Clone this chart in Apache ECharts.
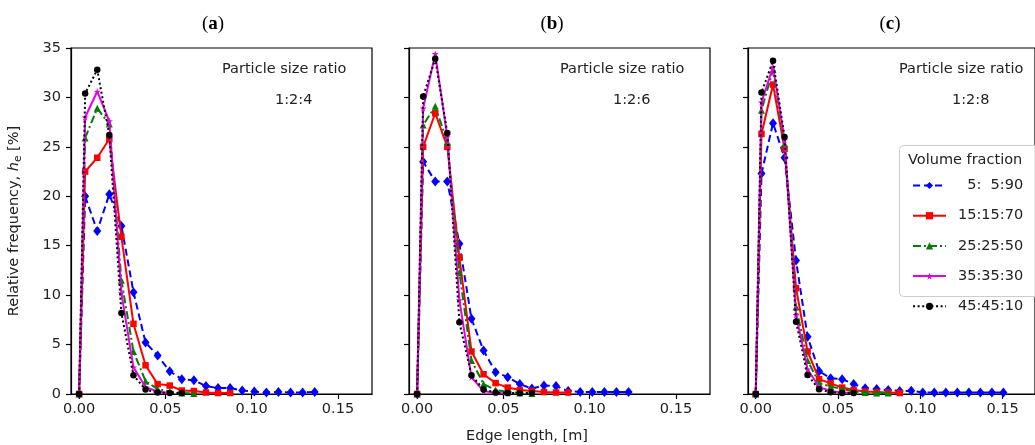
<!DOCTYPE html>
<html>
<head>
<meta charset="utf-8">
<script src="https://cdn.jsdelivr.net/npm/echarts@6/dist/echarts.min.js"></script>
<style>html,body{margin:0;padding:0;background:#fff;}#c{width:1035px;height:445px;}</style>
</head>
<body>
<div id="c"></div>
<script>
// Edge length positions (m): x = 0 then bin centres
const edgeLength = [0, 0.0035, 0.0105, 0.0175, 0.0245, 0.0315, 0.0385, 0.0455, 0.0525, 0.0595, 0.0665,
  0.0735, 0.0805, 0.0875, 0.0945, 0.1015, 0.1085, 0.1155, 0.1225, 0.1295, 0.1365, 0.1435, 0.1505];

const seriesNames = ['  5:  5:90', '15:15:70', '25:25:50', '35:35:30', '45:45:10'];
const panelTitles = ['a', 'b', 'c'];
const sizeRatios = ['1:2:4', '1:2:6', '1:2:8'];
const xTicks = [0, 0.05, 0.10, 0.15];

// Panel (a) 1:2:4
const blueA = [0, 20.0, 16.5, 20.2, 17.0, 10.3, 5.2, 3.9, 2.3, 1.5, 1.4, 0.8, 0.6, 0.6, 0.35, 0.25, 0.15, 0.2, 0.15, 0.15, 0.2];
const redA = [0, 22.5, 23.9, 25.8, 15.9, 7.1, 2.9, 1.0, 0.85, 0.35, 0.3, 0.15, 0.1, 0.1];
const greenA = [0, 25.9, 28.9, 27.3, 11.5, 4.3, 1.3, 0.5, 0.25, 0.1, 0.05];
const magentaA = [0, 28.0, 30.6, 27.6, 10.2, 2.7, 0.7, 0.25, 0.1];
const blackA = [0, 30.4, 32.8, 26.2, 8.2, 1.9, 0.45, 0.15, 0.1, 0.1];

// Panel (b) 1:2:6
const blueB = [0, 23.5, 21.5, 21.5, 15.2, 7.6, 4.4, 2.2, 1.7, 1.0, 0.55, 0.85, 0.8, 0.3, 0.2, 0.2, 0.2, 0.2, 0.2];
const redB = [0, 25.0, 28.4, 25.0, 13.8, 4.3, 2.0, 1.1, 0.65, 0.4, 0.3, 0.2, 0.15, 0.15];
const greenB = [0, 27.2, 29.1, 25.5, 12.3, 3.4, 1.0, 0.4, 0.2, 0.1, 0.05];
const magentaB = [0, 28.9, 34.4, 26.0, 9.5, 1.7, 0.3, 0.1, 0.05];
const blackB = [0, 30.1, 33.9, 26.4, 7.25, 1.9, 0.45, 0.15, 0.1, 0.1, 0.1];

// Panel (c) 1:2:8
const blueC = [0, 22.3, 27.4, 23.9, 13.5, 5.8, 2.3, 1.6, 1.5, 1.0, 0.57, 0.5, 0.4, 0.3, 0.33, 0.16, 0.15, 0.15, 0.15, 0.15, 0.15, 0.15, 0.15];
const redC = [0, 26.3, 31.3, 24.8, 10.7, 4.3, 1.5, 1.08, 0.65, 0.4, 0.25, 0.2, 0.15, 0.1];
const greenC = [0, 28.7, 32.8, 25.3, 8.8, 3.4, 1.1, 0.75, 0.5, 0.25, 0.15, 0.1, 0.1];
const magentaC = [0, 29.5, 33.1, 25.7, 8.0, 2.5, 0.7, 0.3, 0.15, 0.1];
const blackC = [0, 30.5, 33.7, 26.0, 7.3, 1.92, 0.47, 0.17, 0.1, 0.1];

const panels = [
  [blueA, redA, greenA, magentaA, blackA],
  [blueB, redB, greenB, magentaB, blackB],
  [blueC, redC, greenC, magentaC, blackC]
];

const FONT = 'DejaVu Sans';
const FS = 14.5;
const starPath = 'path://M50,0 L61,35 L98,35 L68,57 L79,91 L50,70 L21,91 L32,57 L2,35 L39,35 Z';
const styles = [
  {color: '#0000ff', type: [7, 4], symbol: 'diamond', size: [8, 10]},
  {color: '#ff0000', type: 'solid', symbol: 'rect', size: 6.5},
  {color: '#008000', type: [8, 3, 2, 3], symbol: 'triangle', size: 7},
  {color: '#e600e6', type: 'solid', symbol: starPath, size: 7},
  {color: '#000000', type: [2, 2.6], symbol: 'circle', size: 6.5}
];

const lefts = [71, 409, 748];
const grids = lefts.map(l => ({left: l, width: 301, top: 48, height: 346, show: true,
  borderColor: '#000', borderWidth: 1.2, backgroundColor: 'transparent'}));

const xAxes = lefts.map((l, i) => ({
  type: 'value', gridIndex: i, min: -0.0047, max: 0.1697,
  splitLine: {show: false},
  axisLine: {show: true, onZero: false, lineStyle: {color: '#000', width: 1.2}},
  axisTick: {show: true, length: 5, customValues: xTicks, lineStyle: {color: '#000', width: 1.2}},
  axisLabel: {show: true, customValues: xTicks, margin: 8, fontFamily: FONT, fontSize: FS, color: '#222',
    formatter: v => v.toFixed(2)}
}));

const yAxes = lefts.map((l, i) => ({
  type: 'value', gridIndex: i, min: 0, max: 35, interval: 5,
  splitLine: {show: false},
  axisLine: {show: true, onZero: false, lineStyle: {color: '#000', width: 1.2}},
  axisTick: {show: true, length: 5, lineStyle: {color: '#000', width: 1.2}},
  axisLabel: {show: i === 0, margin: 10, fontFamily: FONT, fontSize: FS, color: '#222'},
  name: i === 0 ? 'Relative frequency, {i|h}{s|e} [%]' : '',
  nameLocation: 'middle', nameGap: 47, nameRotate: 90,
  nameTextStyle: {fontFamily: FONT, fontSize: FS, color: '#222',
    rich: {i: {fontFamily: FONT, fontSize: FS, fontStyle: 'italic', color: '#222'},
           s: {fontFamily: FONT, fontSize: 10.5, color: '#222', padding: [9, 0, 0, 0]}}}
}));

const series = [];
panels.forEach((arrs, p) => {
  arrs.forEach((vals, s) => {
    const st = styles[s];
    series.push({
      name: seriesNames[s], type: 'line', xAxisIndex: p, yAxisIndex: p,
      data: vals.map((v, k) => [edgeLength[k], v]),
      symbol: st.symbol, symbolSize: st.size, showSymbol: true,
      lineStyle: {color: st.color, width: 2, type: st.type},
      itemStyle: {color: st.color, borderWidth: 0},
      color: st.color, animation: false, z: 2 + s, silent: true
    });
  });
});

const graphics = [];
lefts.forEach((l, i) => {
  graphics.push({type: 'text', left: l + 151, top: 62, silent: true,
    style: {text: 'Particle size ratio', font: FS + 'px "' + FONT + '"', fill: '#222'}});
  graphics.push({type: 'text', left: l + 204, top: 93, silent: true,
    style: {text: sizeRatios[i], font: FS + 'px "' + FONT + '"', fill: '#222'}});
});
const titleCenters = [213, 552, 890];
titleCenters.forEach((cx, i) => {
  graphics.push({type: 'text', x: cx, y: 24, silent: true,
    style: {text: '({b|' + panelTitles[i] + '})', fontFamily: 'Liberation Serif', fontSize: 19, fill: '#000',
      align: 'center', verticalAlign: 'middle',
      rich: {b: {fontFamily: 'Liberation Serif', fontSize: 19, fontWeight: 'bold', fill: '#000'}}}});
});
graphics.push({type: 'text', x: 527, y: 436, silent: true,
  style: {text: 'Edge length, [m]', font: FS + 'px "' + FONT + '"', fill: '#222', align: 'center', verticalAlign: 'middle'}});
// legend frame + title
graphics.push({type: 'rect', shape: {x: 899.5, y: 145.5, width: 160, height: 151, r: 4}, silent: true, z: 10,
  style: {fill: 'rgba(255,255,255,0.85)', stroke: '#cccccc', lineWidth: 1}});
graphics.push({type: 'text', x: 908, y: 160, silent: true, z: 11,
  style: {text: 'Volume fraction', font: FS + 'px "' + FONT + '"', fill: '#222', verticalAlign: 'middle'}});

const chart = echarts.init(document.getElementById('c'), null, {renderer: 'canvas'});
chart.setOption({
  animation: false,
  backgroundColor: '#fff',
  grid: grids, xAxis: xAxes, yAxis: yAxes, series: series,
  legend: {orient: 'vertical', left: 912, top: 178, padding: 0, itemWidth: 33, itemHeight: 9, itemGap: 15.2,
    z: 20, selectedMode: false,
    data: seriesNames,
    textStyle: {fontFamily: FONT, fontSize: FS, color: '#222', padding: [0, 0, 0, 7]}},
  graphic: graphics
});
</script>
</body>
</html>
